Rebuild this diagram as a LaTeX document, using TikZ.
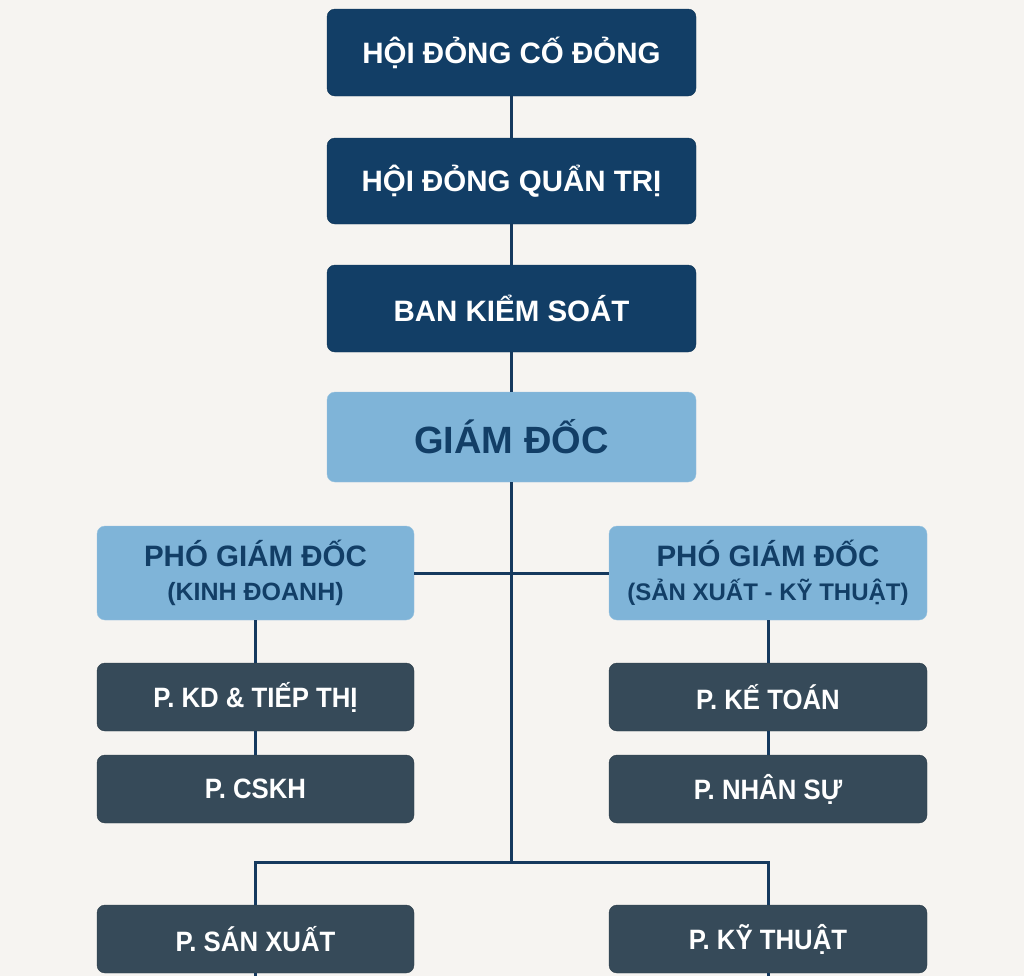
\documentclass[tikz,border=0pt]{standalone}
\usepackage{fontspec}
\setmainfont{Liberation Sans}
\newfontfamily\condfont{Liberation Sans}[FakeStretch=0.92]
\usepackage{tikz}
\definecolor{bg}{HTML}{F6F4F1}
\definecolor{navy}{HTML}{123E66}
\definecolor{lightblue}{HTML}{7FB4D8}
\definecolor{slate}{HTML}{364A59}
\definecolor{linecol}{HTML}{15395E}

\begin{document}
\begin{tikzpicture}[x=1pt,y=-1pt,
		topbox/.style={draw=navy!85!black,fill=navy,rounded corners=8pt,minimum width=369pt,minimum height=87pt,inner sep=0pt,text=white,font=\bfseries\fontsize{29.5}{32}\selectfont},
		headbox/.style={draw=lightblue!80!white,fill=lightblue,rounded corners=8pt,inner sep=0pt,text=navy,align=center},
		deptbox/.style={draw=slate!80!black,fill=slate,rounded corners=8pt,minimum width=317pt,minimum height=68pt,inner sep=0pt,text=white,font=\condfont\bfseries\fontsize{28}{30}\selectfont},
		conn/.style={draw=linecol,line width=3pt}]
			\fill[bg] (0,0) rectangle (1024,976);
			% ban lanh dao
			\node[topbox] (hdcd) at (511.5,52.5) {HỘI ĐỎNG CỐ ĐỎNG};
			\node[topbox,minimum height=86pt] (hdqt) at (511.5,181) {HỘI ĐỎNG QUẨN TRỊ};
			\node[topbox] (bks) at (511.5,308.5) {BAN KIỂM SOÁT};
			\node[headbox,minimum width=369pt,minimum height=90pt,font=\bfseries\fontsize{38}{40}\selectfont] (gd) at (511.5,437) {GIÁM ĐỐC};
			% pho giam doc
			\node[headbox,minimum width=317pt,minimum height=94pt,font=\bfseries\fontsize{29.5}{34}\selectfont] (pgdkd) at (255.5,573) {PHÓ GIÁM ĐỐC\\{\fontsize{25}{34}\selectfont (KINH ĐOANH)}};
			\node[headbox,minimum width=318pt,minimum height=94pt,font=\bfseries\fontsize{29.5}{34}\selectfont] (pgdsx) at (768,573) {PHÓ GIÁM ĐỐC\\{\fontsize{24}{34}\selectfont (SẢN XUẤT - KỸ THUẬT)}};
			% cac phong
			\node[deptbox] (pkd) at (255.5,697) {P. KD \& TIẾP THỊ};
			\node[deptbox] (pcskh) at (255.5,789) {P. CSKH};
			\node[deptbox,minimum width=318pt] (pketoan) at (768,697) {P. KẾ TOÁN};
			\node[deptbox,minimum width=318pt] (pns) at (768,789) {P. NHÂN SỰ};
			\node[deptbox] (psx) at (255.5,939) {P. SÁN XUẤT};
			\node[deptbox,minimum width=318pt] (pkt) at (768,939) {P. KỸ THUẬT};
			\coordinate (split) at (511.5,862);
			\coordinate (sxend) at (255.5,976);
			\coordinate (ktend) at (768,976);
			% duong noi
			\draw[conn] (hdcd) -- (hdqt);
			\draw[conn] (hdqt) -- (bks);
			\draw[conn] (bks) -- (gd);
			\draw[conn] (gd) -- (split);
			\draw[conn] (pgdkd) -- (pgdsx);
			\draw[conn] (pgdkd) -- (pkd);
			\draw[conn] (pkd) -- (pcskh);
			\draw[conn] (pgdsx) -- (pketoan);
			\draw[conn] (pketoan) -- (pns);
			\draw[conn] (psx.north) |- (split) -| (pkt.north);
			\draw[conn] (psx.south) -- (sxend);
			\draw[conn] (pkt.south) -- (ktend);
		\end{tikzpicture}
\end{document}
